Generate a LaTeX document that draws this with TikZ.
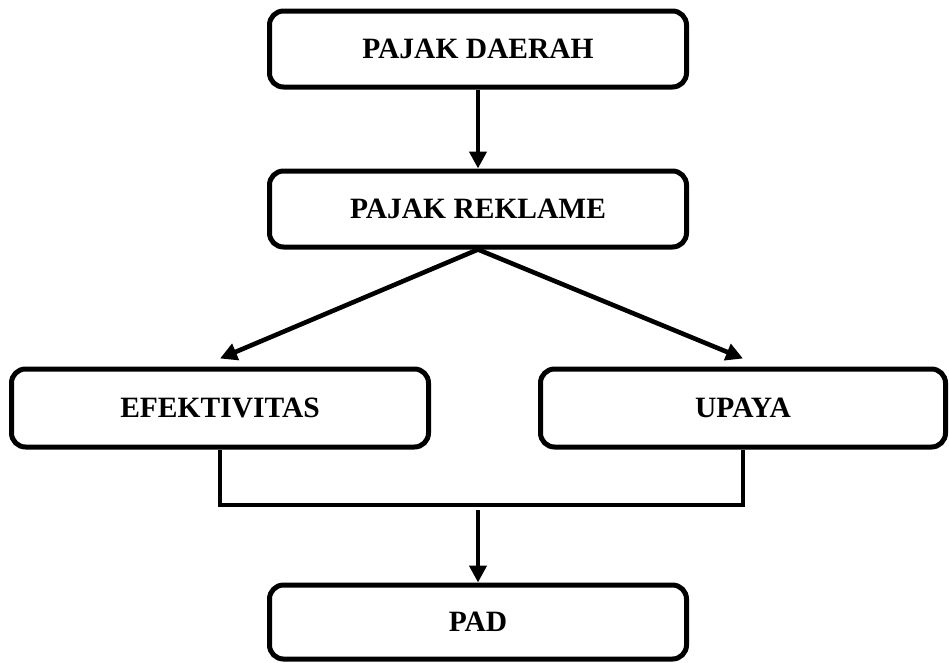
\documentclass[tikz,border=0pt]{standalone}
\usepackage{fontspec}
\setmainfont{Liberation Serif}
\usetikzlibrary{arrows.meta}

\begin{document}
\begin{tikzpicture}[x=1pt,y=1pt,box/.style={draw, line width=5pt, rounded corners=14pt, minimum width=417pt, minimum height=76pt, font=\bfseries\fontsize{29.5}{34}\selectfont},link/.style={line width=4.6pt, -{Triangle[length=17pt,width=17pt]}}]
\useasboundingbox (0,0) rectangle (949,-662);
\node[box] (daerah) at (478,-49) {PAJAK DAERAH};
\node[box] (reklame) at (478,-209) {PAJAK REKLAME};
\node[box, minimum height=78pt] (efek) at (220,-408) {EFEKTIVITAS};
\node[box, minimum width=405pt, minimum height=78pt] (upaya) at (743,-408) {UPAYA};
\node[box, minimum height=74pt] (pad) at (478,-622) {PAD};
\coordinate (join) at (478,-505);
\draw[link] (daerah.south) -- (reklame.north);
\draw[link] (reklame.south) -- ([yshift=8pt]efek.north);
\draw[link] (reklame.south) -- ([yshift=8pt]upaya.north);
\draw[line width=4pt] (efek.south) |- (join) -| (upaya.south);
\draw[link] ([yshift=-5pt]join) -- (pad.north);
\end{tikzpicture}
\end{document}
